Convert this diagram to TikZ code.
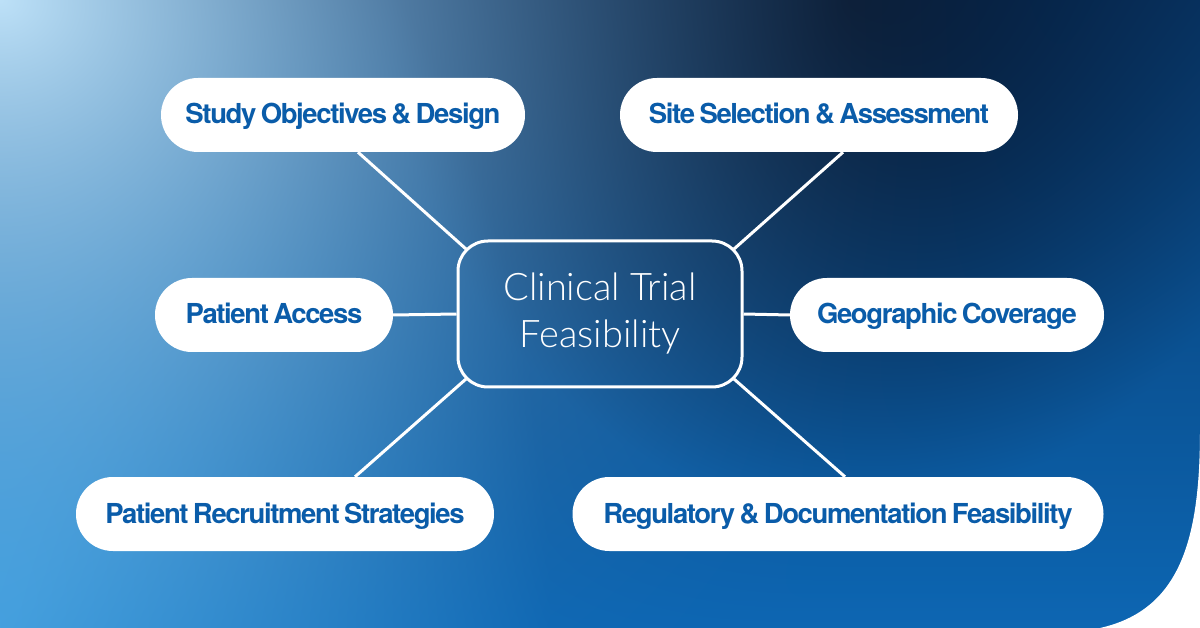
\documentclass[tikz,border=0pt]{standalone}
\usepackage{fontspec}
\setmainfont{TeX Gyre Heros}
\newfontfamily\pillfont{TeX Gyre Heros}[LetterSpace=-5,WordSpace=0.7]
\newfontfamily\lightfont{Lato Light}
\usetikzlibrary{backgrounds}
\definecolor{textblue}{HTML}{0A5CA9}
\pgfdeclarefunctionalshading{bgshade}{\pgfpoint{-50bp}{-50bp}}{\pgfpoint{50bp}{50bp}}{}{
exch 25 add 24 mul
exch 25 exch sub 12.56 mul
dup 628 div
2 index 850 sub dup mul 2 index 0.9 mul dup mul add sqrt 460 div 1 exch sub dup 0 lt {pop 0} if
3 index dup mul 3 index 628 exch sub 0.6 mul dup mul add sqrt 550 div 1 exch sub dup 0 lt {pop 0} if
4 index dup mul 4 index 1.2 mul dup mul add sqrt 1080 div 1 exch sub dup 0 lt {pop 0} if dup mul
6 -2 roll pop pop
3 index 0.02 mul 0.03 add
dup 0.02 exch sub 4 index mul add
dup 0.22 exch sub 3 index mul add
dup 0.74 exch sub 2 index mul add
4 index 0.18 mul 0.22 add
dup 0.09 exch sub 5 index mul add
dup 0.60 exch sub 4 index mul add
dup 0.88 exch sub 3 index mul add
5 index 0.28 mul 0.42 add
dup 0.19 exch sub 6 index mul add
dup 0.86 exch sub 5 index mul add
dup 0.97 exch sub 4 index mul add
7 3 roll pop pop pop pop
}
\tikzset{
  pill/.style={fill=white, rounded corners=36.9pt, minimum height=74pt,
    inner xsep=0pt, inner ysep=0pt, text=textblue, text height=20pt, text depth=2pt,
    font=\pillfont\bfseries\fontsize{27.5}{30}\selectfont},
  hub/.style={draw=white, line width=3pt, rounded corners=30pt,
    minimum width=284pt, minimum height=146pt, align=center, text=white,
    inner sep=0pt, font=\lightfont\fontsize{38}{47}\selectfont},
  conn/.style={draw=white, line width=3pt}
}
\begin{document}
\begin{tikzpicture}[x=1pt,y=-1pt]
\useasboundingbox (0,0) rectangle (1200,628);
\node[hub] (ctr) at (600,314) {Clinical Trial\\Feasibility};
\node[pill, minimum width=364pt] (study) at (343,115) {Study Objectives \& Design};
\node[pill, minimum width=398pt] (site) at (819,115) {Site Selection \& Assessment};
\node[pill, minimum width=238pt] (access) at (274,315) {Patient Access};
\node[pill, minimum width=314pt] (geo) at (947,315) {Geographic Coverage};
\node[pill, minimum width=418pt] (recruit) at (285,514) {Patient Recruitment Strategies};
\node[pill, minimum width=531pt] (regul) at (838,514) {Regulatory \& Documentation Feasibility};
\begin{scope}[on background layer]
  \shade[shading=bgshade] (0,0) rectangle (1200,628);
  \fill[white] (1200,430) .. controls (1200,540) and (1180,610) .. (1100,628) -- (1200,628) -- cycle;
  \draw[conn] ([xshift=15pt]study.south) -- ([shift={(9.5,9.5)}]ctr.north west);
  \draw[conn] ([xshift=24pt]site.south) -- ([shift={(-9.5,9.5)}]ctr.north east);
  \draw[conn] (access.east) -- (ctr.west);
  \draw[conn] (ctr.east) -- (geo.west);
  \draw[conn] ([xshift=70pt]recruit.north) -- ([shift={(9.5,-9.5)}]ctr.south west);
  \draw[conn] ([xshift=7pt]regul.north) -- ([shift={(-9.5,-9.5)}]ctr.south east);
\end{scope}
\end{tikzpicture}
\end{document}
